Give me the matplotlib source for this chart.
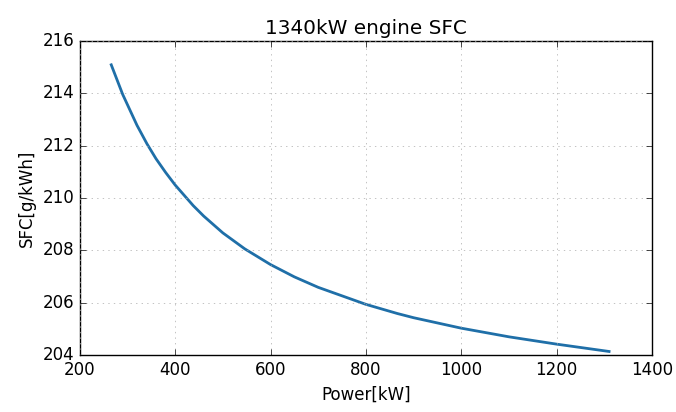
import numpy as np
import matplotlib
matplotlib.use('Agg')
import matplotlib.pyplot as plt

# values
power = [266, 290, 320, 341, 360, 380, 400, 438, 460, 500, 546, 600, 650, 700, 800, 866, 900, 1000, 1100, 1200, 1310]
sfc = [215.09, 213.96, 212.78, 212.07, 211.5, 210.98, 210.5, 209.71, 209.31, 208.67, 208.06, 207.46, 206.99, 206.59, 205.94, 205.59, 205.43, 205.03, 204.7, 204.42, 204.14]

xticks = [200, 400, 600, 800, 1000, 1200, 1400]
yticks = [204, 206, 208, 210, 212, 214, 216]

plt.style.use('classic')
fig = plt.figure(figsize=(6.76, 4.12), dpi=100, facecolor='white')
ax = fig.add_axes([0.118, 0.138, 0.8465, 0.7625])
ax.plot(power, sfc, color='#1f6fa8', lw=2, solid_joinstyle='round')
ax.set_xlim(200, 1400)
ax.set_ylim(204, 216)
ax.set_xticks(xticks)
ax.set_yticks(yticks)
ax.grid(True, color='#aaaaaa')
ax.set_xlabel("Power[kW]")
ax.set_ylabel("SFC[g/kWh]")
ax.set_title("1340kW engine SFC")
fig.savefig("out.png", dpi=100, facecolor='white')
